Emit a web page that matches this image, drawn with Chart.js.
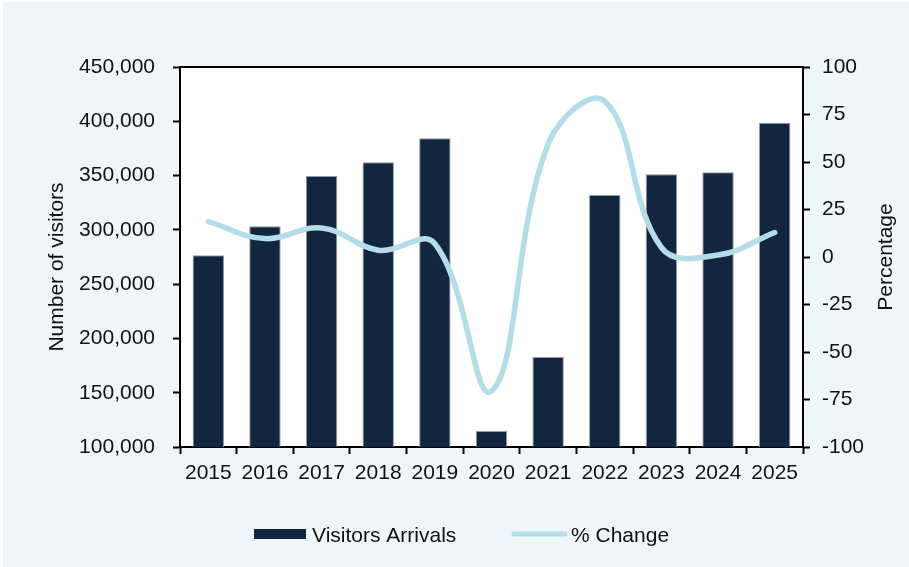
<!DOCTYPE html>
<html>
<head>
<meta charset="utf-8">
<script src="https://cdn.jsdelivr.net/npm/chart.js@4"></script>
<style>
  html, body { margin: 0; padding: 0; background: #eff6f9; overflow: hidden; }
  #wrap { width: 909px; height: 567px; }
  canvas { display: block; }
</style>
</head>
<body>
<div id="wrap"><canvas id="chart" width="909" height="567"></canvas></div>
<script>
// Annual visitor arrivals and year-on-year change
const years = ['2015', '2016', '2017', '2018', '2019', '2020', '2021', '2022', '2023', '2024', '2025'];
const visitorArrivals = [276600, 303300, 349600, 362200, 384300, 114700, 182900, 332100, 351200, 353000, 398700];
const percentChange = [18.6, 9.7, 15.3, 3.6, 7.0, -70.5, 59.5, 82.0, 5.0, 1.0, 12.9];

const visitorAxis = { min: 100000, max: 450000, step: 50000 };
const percentAxis = { min: -100, max: 100, step: 25 };

const seriesNames = ['Visitors Arrivals', '% Change'];
const axisTitles = ['Number of visitors', 'Percentage'];

const FONT = '"Liberation Sans", Arial, Helvetica, sans-serif';
const BAR_COLOR = '#12263f';
const LINE_COLOR = '#b5dde8';
const PANEL_BG = '#eff6f9';

const decorations = {
  id: 'decorations',
  beforeDraw(chart) {
    const { ctx, chartArea: a } = chart;
    ctx.save();
    ctx.fillStyle = '#ffffff';
    ctx.fillRect(0, 0, chart.width, chart.height);
    ctx.fillStyle = PANEL_BG;
    ctx.fillRect(3, 2, chart.width - 3, chart.height - 2);
    ctx.fillStyle = '#ffffff';
    ctx.fillRect(a.left, a.top, a.right - a.left, a.bottom - a.top);
    ctx.restore();
  },
  afterDraw(chart) {
    const { ctx, chartArea: a } = chart;
    ctx.save();
    // top frame line of the plot area
    ctx.strokeStyle = '#000000';
    ctx.lineWidth = 2;
    ctx.beginPath();
    ctx.moveTo(a.left - 1, a.top);
    ctx.lineTo(a.right + 1, a.top);
    ctx.stroke();

    // axis titles
    ctx.fillStyle = '#111111';
    ctx.font = '21px ' + FONT;
    ctx.textAlign = 'center';
    ctx.textBaseline = 'alphabetic';
    ctx.save();
    ctx.translate(63, 267);
    ctx.rotate(-Math.PI / 2);
    ctx.fillText(axisTitles[0], 0, 0);
    ctx.restore();
    ctx.save();
    ctx.translate(892, 257);
    ctx.rotate(-Math.PI / 2);
    ctx.fillText(axisTitles[1], 0, 0);
    ctx.restore();

    // legend
    const ds = chart.data.datasets;
    ctx.textAlign = 'left';
    ctx.fillStyle = ds[0].backgroundColor;
    ctx.fillRect(254, 529, 52, 10);
    ctx.fillStyle = '#111111';
    ctx.fillText(ds[0].label, 312, 541.5);
    ctx.strokeStyle = ds[1].borderColor;
    ctx.lineWidth = 5;
    ctx.lineCap = 'round';
    ctx.beginPath();
    ctx.moveTo(514, 534);
    ctx.lineTo(565, 534);
    ctx.stroke();
    ctx.fillText(ds[1].label, 571, 541.5);
    ctx.restore();
  }
};

new Chart(document.getElementById('chart'), {
  data: {
    labels: years,
    datasets: [
      {
        type: 'bar',
        label: seriesNames[0],
        data: visitorArrivals,
        yAxisID: 'y',
        backgroundColor: BAR_COLOR,
        borderColor: '#8e9aab',
        borderWidth: 1,
        barPercentage: 0.555,
        categoryPercentage: 1.0,
        order: 2
      },
      {
        type: 'line',
        label: seriesNames[1],
        data: percentChange,
        yAxisID: 'y1',
        borderColor: LINE_COLOR,
        backgroundColor: LINE_COLOR,
        borderWidth: 5.5,
        borderCapStyle: 'round',
        borderJoinStyle: 'round',
        tension: 0.4,
        pointRadius: 0,
        pointHoverRadius: 0,
        fill: false,
        order: 1
      }
    ]
  },
  options: {
    responsive: false,
    devicePixelRatio: 1,
    animation: false,
    layout: { padding: { top: 67, left: 0, right: 0, bottom: 0 } },
    plugins: { legend: { display: false }, tooltip: { enabled: false } },
    scales: {
      x: {
        offset: true,
        grid: {
          offset: true,
          drawOnChartArea: false,
          drawTicks: true,
          tickLength: 7,
          tickWidth: 2,
          tickColor: '#000000'
        },
        border: { display: true, color: '#000000', width: 2 },
        ticks: { color: '#111111', font: { family: FONT, size: 21 }, padding: 7, maxRotation: 0, autoSkip: false },
        afterFit(scale) { scale.height = 120; }
      },
      y: {
        position: 'left',
        min: visitorAxis.min,
        max: visitorAxis.max,
        grid: {
          drawOnChartArea: false,
          drawTicks: true,
          tickLength: 7,
          tickWidth: 2,
          tickColor: '#000000'
        },
        border: { display: true, color: '#000000', width: 2 },
        ticks: {
          stepSize: visitorAxis.step,
          color: '#111111',
          font: { family: FONT, size: 21 },
          padding: 18,
          callback: v => v.toLocaleString('en-US')
        },
        afterFit(scale) { scale.width = 180; }
      },
      y1: {
        position: 'right',
        min: percentAxis.min,
        max: percentAxis.max,
        grid: {
          drawOnChartArea: false,
          drawTicks: true,
          tickLength: 7,
          tickWidth: 2,
          tickColor: '#000000'
        },
        border: { display: true, color: '#000000', width: 2 },
        ticks: {
          stepSize: percentAxis.step,
          color: '#111111',
          font: { family: FONT, size: 21 },
          padding: 12
        },
        afterFit(scale) { scale.width = 106; }
      }
    }
  },
  plugins: [decorations]
});
</script>
</body>
</html>
